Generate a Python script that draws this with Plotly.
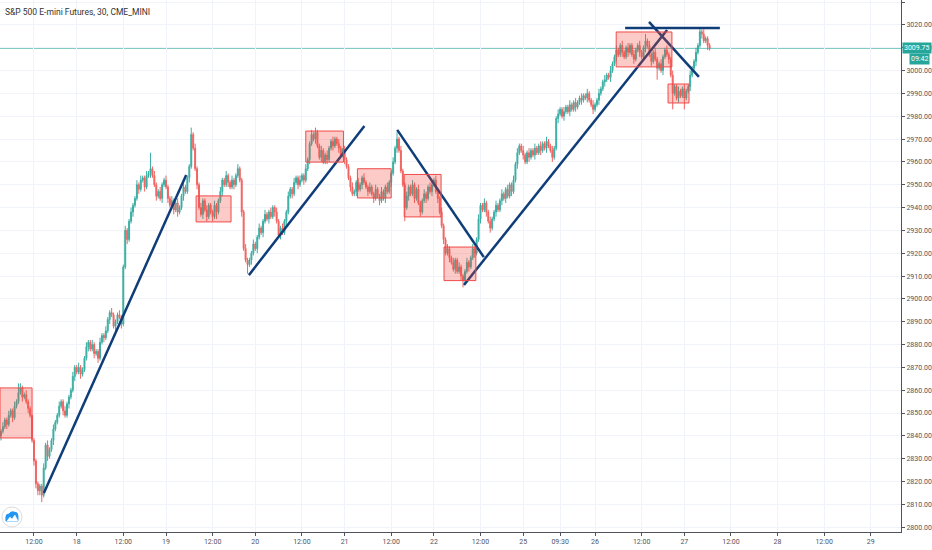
import plotly.graph_objects as go

# x axis is the bar index of 30-minute bars (session gaps removed, like the TradingView view)
tick_pos = [17, 39, 63, 85, 109, 131, 155, 177, 201, 223, 247, 269, 288, 306, 330, 352, 376, 400, 424, 448]
tick_text = ["12:00", "18", "12:00", "19", "12:00", "20", "12:00", "21", "12:00", "22",
             "12:00", "25", "09:30", "26", "12:00", "27", "12:00", "28", "12:00", "29"]

first_open = 2840
close = [
    2842, 2844, 2847, 2845, 2849, 2851, 2848, 2853, 2855, 2859,
    2861, 2857, 2858, 2855, 2852, 2849, 2838, 2829, 2819, 2816,
    2818, 2814, 2826, 2836, 2831, 2834, 2838, 2843, 2846, 2849,
    2853, 2855, 2851, 2849, 2854, 2857, 2860, 2866, 2870, 2868,
    2870, 2867, 2869, 2874, 2879, 2881, 2878, 2880, 2876, 2877,
    2874, 2881, 2884, 2883, 2886, 2891, 2894, 2893, 2888, 2890,
    2893, 2892, 2889, 2914, 2930, 2926, 2934, 2938, 2941, 2944,
    2950, 2948, 2952, 2953, 2949, 2954, 2955, 2957, 2954, 2950,
    2945, 2947, 2944, 2950, 2952, 2949, 2944, 2941, 2943, 2939,
    2942, 2938, 2940, 2945, 2949, 2947, 2953, 2958, 2972, 2966,
    2957, 2950, 2940, 2937, 2943, 2939, 2936, 2941, 2938, 2936,
    2941, 2938, 2943, 2947, 2952, 2950, 2954, 2951, 2949, 2952,
    2950, 2954, 2957, 2952, 2938, 2922, 2917, 2915, 2917, 2920,
    2924, 2922, 2927, 2931, 2929, 2934, 2937, 2935, 2938, 2936,
    2940, 2938, 2934, 2928, 2931, 2929, 2934, 2938, 2945, 2948,
    2946, 2951, 2953, 2950, 2952, 2954, 2952, 2957, 2961, 2968,
    2972, 2970, 2973, 2967, 2962, 2965, 2960, 2963, 2961, 2966,
    2969, 2967, 2970, 2968, 2966, 2963, 2965, 2961, 2958, 2953,
    2949, 2946, 2947, 2951, 2948, 2950, 2953, 2951, 2949, 2947,
    2949, 2946, 2944, 2948, 2945, 2943, 2947, 2944, 2949, 2947,
    2951, 2955, 2960, 2966, 2970, 2965, 2956, 2950, 2940, 2945,
    2949, 2946, 2950, 2944, 2948, 2942, 2938, 2943, 2946, 2944,
    2949, 2947, 2950, 2952, 2947, 2944, 2938, 2932, 2926, 2920,
    2922, 2918, 2916, 2913, 2917, 2912, 2914, 2910, 2908, 2912,
    2916, 2914, 2918, 2922, 2920, 2926, 2935, 2941, 2939, 2942,
    2938, 2934, 2931, 2935, 2938, 2941, 2939, 2943, 2946, 2944,
    2948, 2945, 2950, 2947, 2952, 2959, 2964, 2967, 2965, 2963,
    2960, 2964, 2962, 2965, 2963, 2966, 2964, 2967, 2965, 2968,
    2966, 2969, 2967, 2965, 2962, 2966, 2979, 2981, 2983, 2980,
    2982, 2984, 2982, 2985, 2983, 2986, 2984, 2986, 2988, 2987,
    2989, 2988, 2990, 2987, 2985, 2983, 2985, 2987, 2990, 2992,
    2995, 2996, 2998, 2997, 3000, 3003, 3006, 3009, 3007, 3011,
    3008, 3006, 3010, 3008, 3011, 3007, 3005, 3009, 3011, 3008,
    3006, 3010, 3013, 3011, 3007, 3004, 3008, 3005, 3001, 3003,
    3000, 3006, 3009, 3007, 3005, 2998, 2990, 2993, 2988, 2991,
    2989, 2992, 2988, 2991, 2993, 2998, 3001, 3004, 3008, 3011,
    3017, 3016, 3013, 3014, 3011, 3009.75,
]

# wick lengths above / below the body, in points
hi_wick = [
    1, 2, 1, 1, 2, 1, 1, 2, 1, 4, 2, 1, 1, 2, 1, 1, 0, 1, 1, 1,
    1, 1, 2, 1, 2, 1, 1, 2, 1, 1, 2, 1, 1, 2, 1, 1, 1, 2, 1, 1,
    2, 1, 1, 1, 2, 1, 1, 2, 1, 1, 1, 2, 1, 1, 2, 1, 1, 2, 1, 1,
    1, 2, 1, 1, 2, 1, 1, 2, 1, 1, 2, 1, 2, 1, 1, 2, 1, 7, 1, 2,
    1, 1, 2, 1, 1, 2, 1, 1, 2, 1, 1, 2, 1, 1, 2, 1, 1, 1, 3, 1,
    2, 1, 1, 2, 1, 1, 2, 1, 1, 1, 2, 1, 1, 2, 1, 1, 2, 1, 1, 2,
    1, 1, 2, 1, 1, 1, 2, 1, 1, 1, 2, 1, 1, 2, 1, 1, 2, 1, 1, 2,
    1, 1, 2, 1, 1, 2, 1, 1, 2, 1, 1, 2, 1, 1, 2, 1, 1, 2, 1, 1,
    2, 1, 2, 1, 1, 2, 1, 1, 2, 1, 1, 2, 1, 1, 2, 1, 1, 2, 1, 1,
    1, 2, 1, 1, 2, 1, 1, 2, 1, 1, 2, 1, 1, 2, 1, 1, 2, 1, 1, 2,
    1, 1, 2, 1, 3, 1, 2, 1, 1, 2, 1, 1, 2, 1, 1, 2, 1, 1, 2, 1,
    1, 2, 1, 1, 2, 1, 1, 2, 1, 1, 2, 1, 1, 2, 1, 1, 2, 1, 1, 1,
    2, 1, 1, 2, 1, 1, 2, 1, 1, 2, 1, 1, 2, 1, 1, 2, 1, 1, 2, 1,
    1, 2, 1, 1, 2, 1, 2, 1, 1, 2, 1, 1, 2, 1, 1, 2, 1, 1, 2, 1,
    1, 2, 1, 1, 2, 1, 1, 2, 1, 1, 2, 1, 1, 2, 1, 1, 2, 1, 1, 2,
    1, 1, 2, 1, 1, 2, 1, 1, 2, 1, 1, 2, 1, 1, 2, 1, 1, 2, 1, 1,
    2, 1, 1, 2, 1, 1, 2, 1, 1, 2, 1, 1, 3, 1, 2, 1, 1, 2, 1, 1,
    2, 1, 1, 2, 1, 1, 2, 1, 1, 2, 1, 1, 2, 1, 1, 2, 1, 1, 2, 1,
    2, 1, 2, 1, 1, 1,
]
lo_wick = [
    2, 1, 1, 2, 1, 1, 2, 1, 1, 1, 1, 2, 1, 1, 2, 1, 1, 2, 2, 2,
    2, 3, 1, 1, 2, 1, 1, 2, 1, 1, 1, 1, 2, 1, 1, 2, 1, 1, 2, 1,
    1, 2, 1, 1, 1, 2, 1, 1, 2, 1, 2, 1, 1, 2, 1, 1, 2, 1, 1, 2,
    1, 1, 2, 1, 1, 2, 1, 1, 2, 1, 1, 2, 1, 1, 2, 1, 1, 2, 1, 1,
    2, 1, 1, 2, 1, 1, 2, 1, 1, 2, 1, 2, 1, 1, 2, 1, 1, 2, 1, 1,
    1, 2, 1, 1, 2, 1, 2, 1, 1, 2, 1, 3, 1, 1, 2, 1, 1, 2, 1, 1,
    2, 1, 1, 1, 2, 1, 1, 4, 1, 2, 1, 1, 2, 1, 1, 2, 1, 1, 2, 1,
    1, 2, 1, 1, 2, 1, 1, 2, 1, 1, 2, 1, 1, 2, 1, 1, 2, 1, 1, 2,
    1, 1, 2, 1, 1, 2, 1, 1, 2, 1, 1, 2, 1, 1, 2, 1, 1, 2, 1, 1,
    2, 1, 1, 2, 1, 1, 2, 1, 1, 2, 1, 1, 2, 1, 1, 2, 1, 1, 2, 1,
    1, 2, 1, 1, 2, 1, 1, 1, 6, 1, 2, 1, 1, 2, 1, 1, 2, 1, 1, 2,
    1, 1, 2, 1, 1, 2, 1, 1, 2, 1, 1, 2, 1, 1, 2, 1, 1, 2, 3, 1,
    1, 2, 1, 1, 2, 1, 1, 2, 1, 1, 2, 1, 2, 1, 1, 2, 1, 1, 2, 1,
    2, 1, 1, 2, 1, 1, 2, 1, 1, 2, 1, 1, 2, 1, 1, 2, 1, 1, 2, 1,
    1, 2, 1, 1, 2, 1, 1, 2, 1, 1, 2, 1, 1, 2, 1, 1, 2, 1, 1, 2,
    1, 1, 2, 1, 1, 2, 1, 1, 2, 1, 1, 2, 1, 1, 2, 1, 1, 2, 1, 1,
    2, 1, 1, 2, 1, 1, 2, 1, 1, 2, 1, 1, 2, 1, 1, 2, 1, 1, 5, 1,
    1, 2, 1, 1, 2, 1, 7, 1, 1, 2, 1, 1, 5, 1, 1, 2, 1, 1, 2, 1,
    1, 2, 1, 1, 2, 1,
]

# drawn rectangles (bar index / price)
box_x0 = [-0.5, 100.5, 157.0, 183.6, 207.7, 228.2, 316.9, 343.6]
box_x1 = [16.0, 118.5, 176.4, 201.0, 226.7, 244.6, 345.6, 354.4]
box_top = [2861.0, 2945.1, 2973.5, 2957.0, 2954.5, 2922.7, 3016.9, 2994.1]
box_bottom = [2839.1, 2933.7, 2959.9, 2944.2, 2935.9, 2908.0, 3001.6, 2985.8]

# drawn trend lines
line_x0 = [22.1, 127.7, 204.1, 238.5, 333.8, 321.5]
line_y0 = [2815.0, 2910.4, 2974.0, 2906.1, 3021.3, 3018.6]
line_x1 = [95.4, 187.2, 248.7, 343.1, 359.5, 370.3]
line_y1 = [2954.3, 2975.7, 2918.3, 3017.8, 2997.2, 3018.6]

countdown = "09:42"

opens = [first_open] + close[:-1]
highs = [max(o, c) + w for o, c, w in zip(opens, close, hi_wick)]
lows = [min(o, c) - w for o, c, w in zip(opens, close, lo_wick)]
bars = list(range(len(close)))

green = "#26a69a"
red = "#ef5350"
navy = "#0f3d78"

fig = go.Figure()
fig.add_trace(go.Candlestick(
    x=bars, open=opens, high=highs, low=lows, close=close,
    increasing=dict(line=dict(color=green, width=1), fillcolor=green),
    decreasing=dict(line=dict(color=red, width=1), fillcolor=red),
    opacity=0.9, hoverinfo="skip", showlegend=False,
))

for x0, x1, y0, y1 in zip(line_x0, line_x1, line_y0, line_y1):
    fig.add_trace(go.Scatter(
        x=[x0, x1], y=[y0, y1], mode="lines",
        line=dict(color=navy, width=2.5), hoverinfo="skip", showlegend=False,
    ))

for x0, x1, top, bot in zip(box_x0, box_x1, box_top, box_bottom):
    fig.add_shape(type="rect", xref="x", yref="y", x0=x0, x1=x1, y0=bot, y1=top,
                  fillcolor="rgba(244,67,54,0.28)", line=dict(color="#f04a4a", width=1),
                  layer="above")

last_price = close[-1]
fig.add_shape(type="line", xref="paper", yref="y", x0=0, x1=1, y0=last_price, y1=last_price,
              line=dict(color="#5dbdb2", width=1), layer="below")

fig.add_annotation(xref="paper", yref="y", x=1, y=last_price, xanchor="left", yanchor="middle",
                   text=f"{last_price:.2f}", showarrow=False, bgcolor=green,
                   font=dict(color="white", size=7, family="Roboto"), borderpad=1, xshift=1)
fig.add_annotation(xref="paper", yref="y", x=1, y=last_price, xanchor="left", yanchor="middle",
                   text=countdown, showarrow=False, bgcolor=green,
                   font=dict(color="white", size=7, family="Roboto"), borderpad=1,
                   xshift=8, yshift=-11)

fig.add_annotation(xref="paper", yref="paper", x=0, y=1, xanchor="left", yanchor="top",
                   text="S&amp;P 500 E-mini Futures, 30, CME_MINI", showarrow=False,
                   font=dict(color="#333", size=8.5, family="Roboto"), xshift=3, yshift=-5)

# small logo bubble bottom-left
logo_x = 12 / 905
logo_y = 1 - 517 / 532
fig.add_shape(type="circle", xref="paper", yref="paper", xsizemode="pixel", ysizemode="pixel",
              xanchor=logo_x, yanchor=logo_y, x0=-10, x1=10, y0=-10, y1=10,
              fillcolor="white", line=dict(color="#dcdcdc", width=1), layer="above")
fig.add_shape(type="path", xref="paper", yref="paper", xsizemode="pixel", ysizemode="pixel",
              xanchor=logo_x, yanchor=logo_y,
              path="M -6,-4 L -6,0 Q -6,3 -3,3 Q -1,6 2,5 Q 6,5 6,1 L 6,-4 Z",
              fillcolor="#2196f3", line=dict(color="#2196f3", width=1), layer="above")
fig.add_shape(type="path", xref="paper", yref="paper", xsizemode="pixel", ysizemode="pixel",
              xanchor=logo_x, yanchor=logo_y,
              path="M -5,-4 L -2,0 L 0,-2 L 3,2 L 6,-4 Z",
              fillcolor="white", line=dict(color="white", width=0.5), layer="above")

fig.update_layout(
    width=932, height=550,
    margin=dict(l=0, r=27, t=0, b=18),
    paper_bgcolor="white", plot_bgcolor="white",
    xaxis=dict(
        range=[-0.51, 463.6], rangeslider=dict(visible=False),
        tickmode="array", tickvals=tick_pos, ticktext=tick_text,
        showgrid=True, gridcolor="#f0f3fa", zeroline=False,
        showline=True, linecolor="#50535e", linewidth=1,
        ticks="outside", ticklen=3, tickcolor="#50535e",
        tickfont=dict(size=7, color="#50535e", family="Roboto"),
    ),
    yaxis=dict(
        side="right", range=[2797.9, 3030.9], dtick=10, tick0=2800, tickformat=".2f",
        showgrid=True, gridcolor="#f0f3fa", zeroline=False,
        showline=True, linecolor="#50535e", linewidth=1,
        ticks="outside", ticklen=3, tickcolor="#50535e",
        tickfont=dict(size=7, color="#50535e", family="Roboto"),
    ),
)

fig.write_html("out.html", config={"displayModeBar": False},
               post_script="document.body.style.margin='0';document.body.style.padding='0';")
